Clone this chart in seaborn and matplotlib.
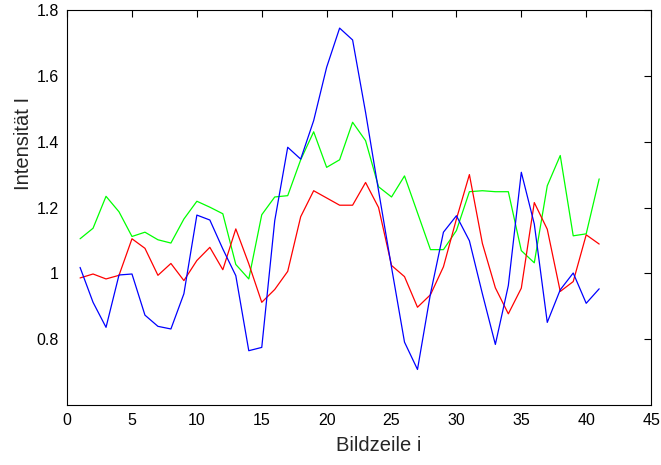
import numpy as np
import pandas as pd
import matplotlib
matplotlib.use("Agg")
import matplotlib.pyplot as plt
import seaborn as sns
from matplotlib.ticker import FuncFormatter

# Bildzeilen 1..41
rows = list(range(1, 42))

blue = [1.018, 0.912, 0.836, 0.995, 0.998, 0.873, 0.839, 0.831, 0.938, 1.177,
        1.162, 1.074, 0.993, 0.765, 0.775, 1.160, 1.383, 1.347, 1.464, 1.626,
        1.745, 1.709, 1.489, 1.251, 1.018, 0.791, 0.708, 0.938, 1.125, 1.175,
        1.099, 0.938, 0.784, 0.963, 1.307, 1.150, 0.851, 0.950, 1.001, 0.909,
        0.953]

red = [0.986, 0.998, 0.983, 0.994, 1.105, 1.076, 0.994, 1.030, 0.978, 1.039,
       1.079, 1.011, 1.135, 1.029, 0.912, 0.951, 1.006, 1.172, 1.251, 1.229,
       1.207, 1.207, 1.276, 1.200, 1.024, 0.990, 0.897, 0.935, 1.020, 1.165,
       1.300, 1.091, 0.956, 0.877, 0.955, 1.215, 1.134, 0.945, 0.975, 1.117,
       1.089]

green = [1.105, 1.137, 1.234, 1.187, 1.112, 1.125, 1.102, 1.092, 1.165, 1.219,
         1.201, 1.181, 1.027, 0.983, 1.178, 1.232, 1.236, 1.345, 1.430, 1.322,
         1.345, 1.459, 1.403, 1.263, 1.232, 1.296, 1.184, 1.072, 1.072, 1.130,
         1.248, 1.251, 1.248, 1.248, 1.069, 1.032, 1.266, 1.358, 1.114, 1.120,
         1.287]

xticks = list(range(0, 46, 5))
yticks = [0.8, 1.0, 1.2, 1.4, 1.6, 1.8]

sns.set_style("white")
plt.rcParams["font.family"] = ["Liberation Sans", "DejaVu Sans"]

fig = plt.figure(figsize=(6.61, 4.65), dpi=100)
ax = fig.add_axes([0.1015, 0.129, 0.8835, 0.8495])

for vals, col in [(green, "#00ff00"), (red, "#ff0000"), (blue, "#0000ff")]:
    sns.lineplot(x=rows, y=vals, color=col, linewidth=0.9, ax=ax)

ax.set_xlim(0, 45)
ax.set_ylim(0.6, 1.8)
ax.set_xticks(xticks)
ax.set_yticks(yticks)
ax.yaxis.set_major_formatter(FuncFormatter(lambda v, p: f"{v:g}"))

ax.tick_params(direction="in", length=5, width=0.8, top=True, right=True,
               labelsize=11.5, colors="black", pad=6)
for s in ax.spines.values():
    s.set_visible(True)
    s.set_color("black")
    s.set_linewidth(0.8)

ax.set_xlabel("Bildzeile i", fontsize=14.5)
ax.set_ylabel("Intensität I", fontsize=14.5)
# label placement as in the original export
ax.xaxis.set_label_coords(0.533, -0.078)
ax.yaxis.set_label_coords(-0.058, 0.662)

fig.savefig("out.png", dpi=100)
